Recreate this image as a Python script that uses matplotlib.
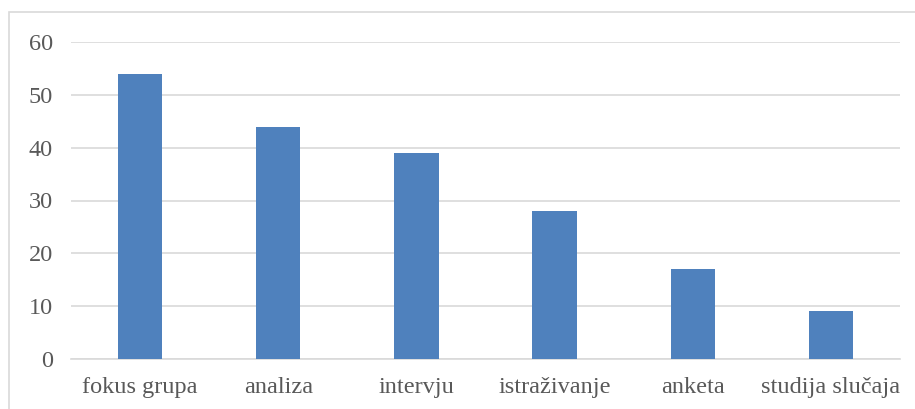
import matplotlib.pyplot as plt
from matplotlib.patches import Rectangle

categories = ['fokus grupa', 'analiza', 'intervju', 'istraživanje', 'anketa', 'studija slučaja']
values = [54, 44, 39, 28, 17, 9]
yticks = [0, 10, 20, 30, 40, 50, 60]

plt.rcParams['font.family'] = ['Liberation Serif', 'DejaVu Serif']

W, H = 915, 409
fig = plt.figure(figsize=(W / 100, H / 100), dpi=100)

# chart border (Excel style), runs off the image on the right and bottom
fig.patches.append(Rectangle((9 / W, -0.05), 1.1, 1.05 - 12 / H,
                             transform=fig.transFigure, fill=False,
                             edgecolor='#D9D9D9', linewidth=1.2))

ax = fig.add_axes([71 / W, 1 - 359 / H, (900 - 71) / W, (359 - 42) / H])
x = range(len(categories))
ax.bar(x, values, width=0.32, color='#4F81BD', zorder=3)

ax.set_xlim(-0.5, len(categories) - 0.5)
ax.set_ylim(0, 60)
ax.set_yticks(yticks)
ax.set_xticks(list(x))
ax.set_xticklabels(categories)
ax.yaxis.grid(True, color='#D9D9D9', linewidth=1.2, zorder=0)
for s in ['top', 'right', 'left']:
    ax.spines[s].set_visible(False)
ax.spines['bottom'].set_color('#D9D9D9')
ax.spines['bottom'].set_linewidth(1.2)
ax.tick_params(length=0, labelsize=17.5, colors='#595959')
ax.tick_params(axis='y', pad=13)
ax.tick_params(axis='x', pad=13)

fig.savefig('out.png', dpi=100)
